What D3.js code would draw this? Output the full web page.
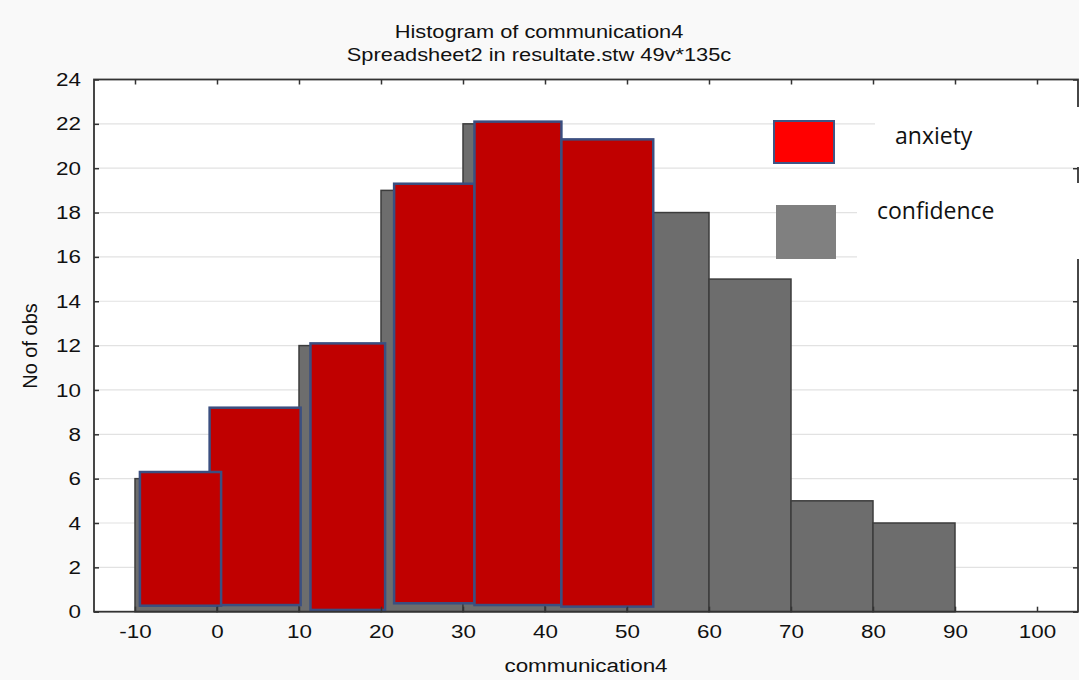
<!DOCTYPE html>
<html><head><meta charset="utf-8">
<script src="https://cdn.jsdelivr.net/npm/d3@7"></script>
<style>
html,body{margin:0;padding:0;background:#f9f9f9;}
svg{display:block;}
</style></head>
<body>
<svg id="chart" width="1079" height="680"></svg>
<script>
// ---- data ----
const titleLines = ["Histogram of communication4", "Spreadsheet2 in resultate.stw 49v*135c"];
const xLabel = "communication4";
const yLabel = "No of obs";
const xTicks = [-10, 0, 10, 20, 30, 40, 50, 60, 70, 80, 90, 100];
const yTicks = [0, 2, 4, 6, 8, 10, 12, 14, 16, 18, 20, 22, 24];
// confidence histogram (bin start, bin end, count)
const confBinStart = [-10, 0, 10, 20, 30, 40, 50, 60, 70, 80];
const confBinEnd   = [0, 10, 20, 30, 40, 50, 60, 70, 80, 90];
const confCounts   = [6, 9, 12, 19, 22, 20, 18, 15, 5, 4];
// anxiety overlay bars (hand-placed shapes in the original), in drawing order
const anxStart  = [-0.9, -9.4, 11.4, 21.6, 31.4, 42.0];
const anxEnd    = [10.2, 0.5, 20.5, 31.4, 42.0, 53.2];
const anxCounts = [9.2, 6.3, 12.1, 19.3, 22.1, 21.3];
const anxBase   = [0.3, 0.27, 0.08, 0.38, 0.3, 0.23];
const legendLabels = ["anxiety", "confidence"];

// ---- layout ----
const FONT = '"Liberation Sans",Arial,sans-serif';
const svg = d3.select("#chart");
const L = 94, R = 1078, T = 79.5, B = 611.7;
const x = d3.scaleLinear().domain([-15, 105]).range([L, R]);
const y = d3.scaleLinear().domain([0, 24]).range([B, T]);
const SX = 1.18;

svg.append("rect").attr("x", L).attr("y", T).attr("width", R - L).attr("height", B - T).attr("fill", "#fff");

// gridlines
svg.append("g").selectAll("line").data(yTicks.filter(d => d > 0 && d < 24)).join("line")
  .attr("x1", L).attr("x2", R).attr("y1", d => y(d)).attr("y2", d => y(d))
  .attr("stroke", "#e2e2e2").attr("stroke-width", 1.2);

// confidence bars
const conf = confCounts.map((c, i) => ({s: confBinStart[i], e: confBinEnd[i], c}));
svg.append("g").selectAll("rect").data(conf).join("rect")
  .attr("x", d => x(d.s)).attr("width", d => x(d.e) - x(d.s))
  .attr("y", d => y(d.c)).attr("height", d => y(0) - y(d.c))
  .attr("fill", "#6d6d6d").attr("stroke", "#3c3c3c").attr("stroke-width", 1.5);

// anxiety bars
const anx = anxCounts.map((c, i) => ({s: anxStart[i], e: anxEnd[i], c, b: anxBase[i]}));
svg.append("g").selectAll("rect").data(anx).join("rect")
  .attr("x", d => x(d.s)).attr("width", d => x(d.e) - x(d.s))
  .attr("y", d => y(d.c)).attr("height", d => y(d.b) - y(d.c))
  .attr("fill", "#c00000").attr("stroke", "#3b4f80").attr("stroke-width", 2.5);

// frame
svg.append("rect").attr("x", L).attr("y", T).attr("width", R - L).attr("height", B - T)
  .attr("fill", "none").attr("stroke", "#333").attr("stroke-width", 1.8);

// axes (ticks inward)
const gB = svg.append("g").attr("transform", `translate(0,${B})`)
  .call(d3.axisBottom(x).tickValues(xTicks).tickSize(-5).tickPadding(13).tickFormat(d => String(d)));
const gT = svg.append("g").attr("transform", `translate(0,${T})`)
  .call(d3.axisTop(x).tickValues(xTicks).tickSize(-5).tickFormat(""));
const gL = svg.append("g").attr("transform", `translate(${L},0)`)
  .call(d3.axisLeft(y).tickValues(yTicks).tickSize(-5).tickPadding(13).tickFormat(d => String(d)));
const gR = svg.append("g").attr("transform", `translate(${R},0)`)
  .call(d3.axisRight(y).tickValues(yTicks).tickSize(-5).tickFormat(""));
[gB, gT, gL, gR].forEach(g => {
  g.select(".domain").remove();
  g.selectAll(".tick line").attr("stroke", "#333").attr("stroke-width", 1.5);
  g.selectAll("text").style("font-size", "19px").style("fill", "#111").style("font-family", FONT);
});
gB.selectAll("text").attr("dy", "0.71em").attr("transform", `scale(${SX},1)`);
gL.selectAll("text").each(function(){ const t = d3.select(this); t.attr("x", +t.attr("x") / SX); })
  .attr("transform", `scale(${SX},1)`);

// legend (white boxes over plot)
svg.append("rect").attr("x", 875).attr("y", 107).attr("width", 204).attr("height", 60).attr("fill", "#fff");
svg.append("rect").attr("x", 857).attr("y", 183).attr("width", 222).attr("height", 76).attr("fill", "#fff");
svg.append("rect").attr("x", 774).attr("y", 121).attr("width", 60).attr("height", 42)
  .attr("fill", "#ff0000").attr("stroke", "#3f5585").attr("stroke-width", 2);
svg.append("rect").attr("x", 776).attr("y", 205).attr("width", 60).attr("height", 54).attr("fill", "#808080");
svg.append("text").attr("x", 895).attr("y", 144).text(legendLabels[0])
  .style("font-family", '"Open Sans",sans-serif').style("font-size", "23px").style("fill", "#111");
svg.append("text").attr("x", 877).attr("y", 219).text(legendLabels[1])
  .style("font-family", '"Open Sans",sans-serif').style("font-size", "23px").style("fill", "#111");

// titles
const stretchText = (tx, ty, str, size, anchor) =>
  svg.append("text").attr("transform", `translate(${tx},${ty}) scale(${SX},1)`)
    .attr("text-anchor", anchor).style("font-size", size + "px").style("font-family", FONT)
    .style("fill", "#111").text(str);
stretchText(539, 38, titleLines[0], 18.5, "middle");
stretchText(539, 61, titleLines[1], 18.5, "middle");
stretchText(586, 672, xLabel, 19, "middle");
svg.append("text").attr("transform", "translate(37,346) rotate(-90)")
  .attr("text-anchor", "middle").style("font-size", "20px").style("font-family", FONT)
  .style("fill", "#111").text(yLabel);
</script>
</body></html>
